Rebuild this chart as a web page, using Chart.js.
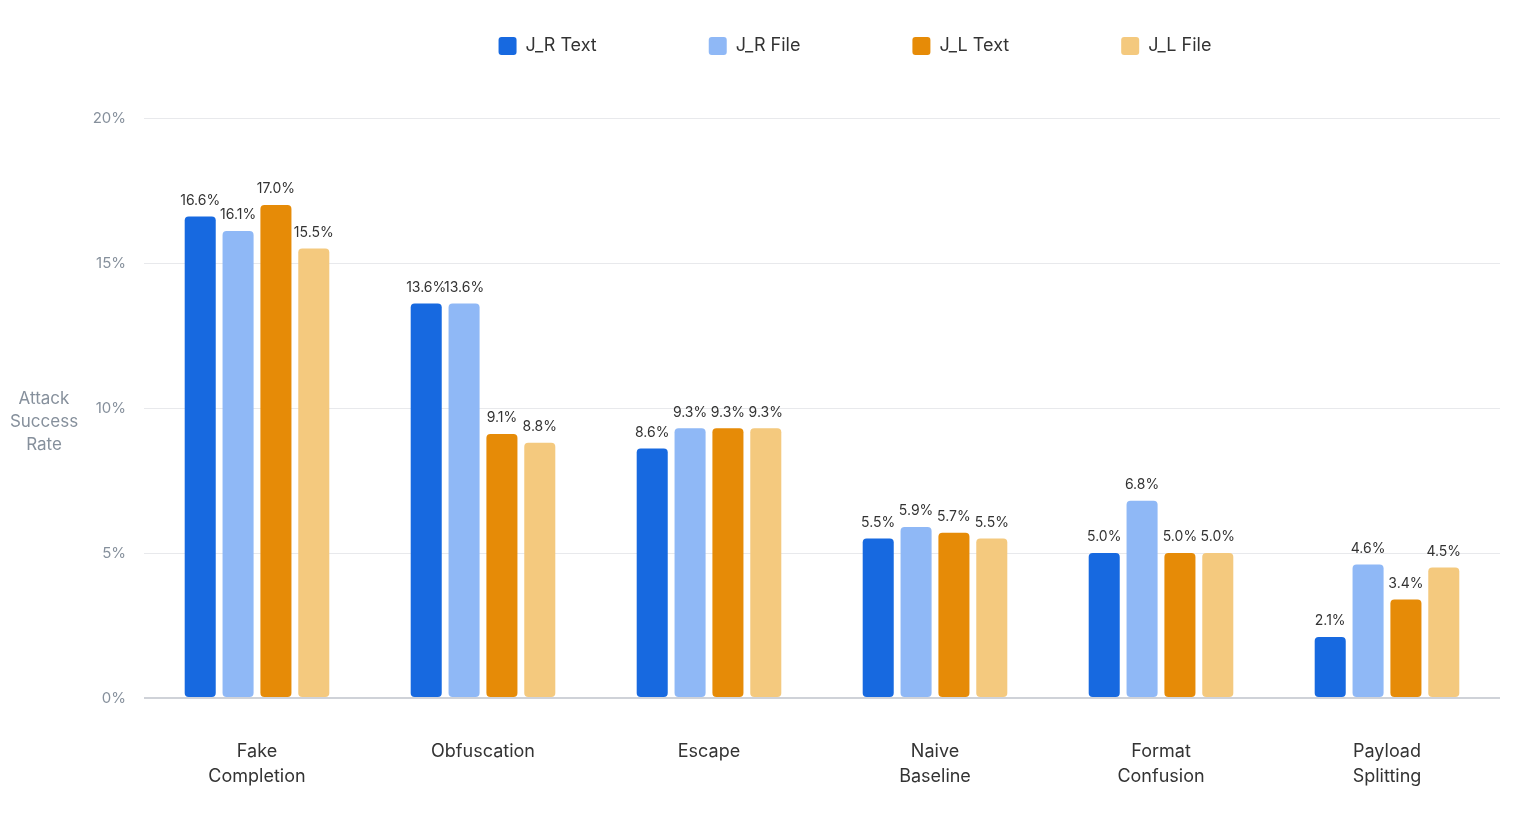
<!DOCTYPE html>
<html>
<head>
<meta charset="utf-8">
<script src="https://cdn.jsdelivr.net/npm/chart.js@4"></script>
<style>
  html, body { margin: 0; padding: 0; background: #fff; }
  #wrap { width: 1524px; height: 814px; position: relative; }
</style>
</head>
<body>
<div id="wrap"><canvas id="chart"></canvas></div>
<script>
const categories = [['Fake', 'Completion'], 'Obfuscation', 'Escape', ['Naive', 'Baseline'], ['Format', 'Confusion'], ['Payload', 'Splitting']];
const jrText = [16.6, 13.6, 8.6, 5.5, 5.0, 2.1];
const jrFile = [16.1, 13.6, 9.3, 5.9, 6.8, 4.6];
const jlText = [17.0, 9.1, 9.3, 5.7, 5.0, 3.4];
const jlFile = [15.5, 8.8, 9.3, 5.5, 5.0, 4.5];
const yTitle = ['Attack', 'Success', 'Rate'];

const FONT = 'Inter, "Noto Sans", sans-serif';
const LEGEND_GAP = 112;
const TOP = 37 - LEGEND_GAP;

// value labels above each bar
const barLabels = {
  id: 'barLabels',
  afterDatasetsDraw(chart) {
    const ctx = chart.ctx;
    ctx.save();
    ctx.font = '14px ' + FONT;
    ctx.fillStyle = '#333';
    ctx.textAlign = 'center';
    ctx.textBaseline = 'bottom';
    chart.data.datasets.forEach((ds, i) => {
      chart.getDatasetMeta(i).data.forEach((bar, j) => {
        ctx.fillText(ds.data[j].toFixed(1) + '%', bar.x, bar.y - 9);
      });
    });
    ctx.restore();
  }
};

// horizontal y axis title on the left
const sideTitle = {
  id: 'sideTitle',
  afterDraw(chart) {
    const ctx = chart.ctx;
    const mid = chart.scales.y.getPixelForValue(10) + 14;
    ctx.save();
    ctx.font = '17px ' + FONT;
    ctx.fillStyle = '#86909c';
    ctx.textAlign = 'center';
    ctx.textBaseline = 'middle';
    yTitle.forEach((t, k) => ctx.fillText(t, 44, mid + (k - 1) * 23));
    ctx.restore();
  }
};

// wide legend gaps: fix the height and re-centre the row
const legendSpace = {
  id: 'legendSpace',
  beforeInit(chart) {
    const lg = chart.legend;
    const fit = lg.fit;
    lg.fit = function () {
      fit.bind(lg)();
      this.height = 118 - TOP;
    };
    const draw = lg.draw;
    lg.draw = function (area) {
      this.ctx.save();
      this.ctx.translate(LEGEND_GAP - 7, 0);
      draw.call(lg, area);
      this.ctx.restore();
    };
  }
};

function ds(label, data, color) {
  return {
    label: label,
    data: data,
    backgroundColor: color,
    borderRadius: 4,
    borderSkipped: false,
    categoryPercentage: 0.67,
    barPercentage: 0.82
  };
}

new Chart(document.getElementById('chart'), {
  type: 'bar',
  data: {
    labels: categories,
    datasets: [
      ds('J_R Text', jrText, '#1769e0'),
      ds('J_R File', jrFile, '#8fb8f6'),
      ds('J_L Text', jlText, '#e68b07'),
      ds('J_L File', jlFile, '#f4c97e')
    ]
  },
  options: {
    responsive: true,
    maintainAspectRatio: false,
    animation: false,
    layout: { padding: { top: TOP, right: 24, left: 0, bottom: 0 } },
    plugins: {
      legend: {
        labels: {
          font: { size: 18, family: FONT },
          color: '#333',
          boxWidth: 18,
          boxHeight: 18,
          useBorderRadius: true,
          borderRadius: 3,
          padding: LEGEND_GAP
        }
      },
      tooltip: { enabled: false }
    },
    scales: {
      x: {
        grid: { display: false },
        border: { display: false },
        ticks: { font: { size: 18, family: FONT, lineHeight: 1.4 }, color: '#333', padding: 33 },
        afterFit(scale) { scale.height = 116; }
      },
      y: {
        min: 0,
        max: 20,
        ticks: {
          stepSize: 5,
          font: { size: 15, family: FONT },
          color: '#86909c',
          padding: 18,
          callback: v => v + '%'
        },
        grid: {
          drawTicks: false,
          color: c => c.tick.value === 0 ? '#cfd2d8' : '#e8e9ec',
          lineWidth: c => c.tick.value === 0 ? 2 : 1
        },
        border: { display: false },
        afterFit(scale) { scale.width = 144; }
      }
    }
  },
  plugins: [barLabels, sideTitle, legendSpace]
});
</script>
</body>
</html>
